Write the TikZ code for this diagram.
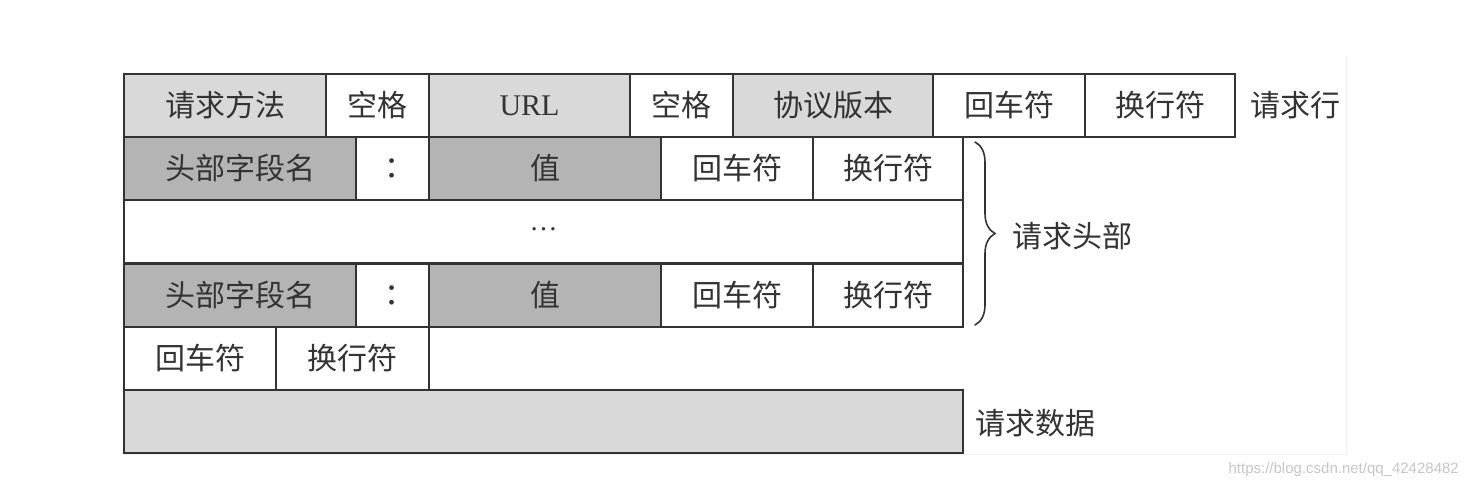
\documentclass[tikz,border=0pt]{standalone}
\usepackage{fontspec}
\newfontfamily\cjk{Noto Sans CJK SC}
\newfontfamily\wmfont{Liberation Sans}
\setmainfont{Liberation Serif}
\usetikzlibrary{decorations.pathreplacing}
\definecolor{lightcell}{HTML}{D9D9D9}
\definecolor{darkcell}{HTML}{B4B4B4}
\definecolor{inkc}{HTML}{333333}
\definecolor{framec}{HTML}{F2F2F2}
\tikzset{
  cell/.style={draw=inkc, line width=1.6pt, anchor=north west, inner sep=0pt, outer sep=0pt,
    minimum height=63pt, text=inkc, font=\cjk\fontsize{30}{32}\selectfont},
  lightbox/.style={cell, fill=lightcell},
  darkbox/.style={cell, fill=darkcell},
  whitebox/.style={cell, fill=white},
  sidelabel/.style={anchor=west, inner sep=0pt, text=inkc, font=\cjk\fontsize{30}{32}\selectfont},
}
\begin{document}
\begin{tikzpicture}[x=1pt,y=-1pt]
\useasboundingbox[fill=white] (0,0) rectangle (1468,488);
% faint background frame of the screenshot
\draw[framec, line width=1pt] (1346,55) -- (1346,454) -- (124,454);
% row 1: request line
\node[lightbox, minimum width=202pt] (m)   at (124,74) {请求方法};
\node[whitebox, minimum width=103pt] (s1)  at (326,74) {空格};
\node[lightbox, minimum width=201pt, font=\fontsize{30}{32}\selectfont] (url) at (429,74) {URL};
\node[whitebox, minimum width=103pt] (s2)  at (630,74) {空格};
\node[lightbox, minimum width=200pt] (ver) at (733,74) {协议版本};
\node[whitebox, minimum width=152pt] (cr1) at (933,74) {回车符};
\node[whitebox, minimum width=150pt] (lf1) at (1085,74) {换行符};
\node[sidelabel] (rl) at (1250,105) {请求行};
% row 2: header line
\node[darkbox, minimum width=232pt] (h1n) at (124,137) {头部字段名};
\node[whitebox, minimum width=73pt, font=\fontsize{40}{40}\selectfont] (h1c) at (356,137) {:};
\node[darkbox, minimum width=232pt] (h1v) at (429,137) {值};
\node[whitebox, minimum width=152pt] (h1r) at (661,137) {回车符};
\node[whitebox, minimum width=150pt] (h1l) at (813,137) {换行符};
% row 3: ellipsis
\node[whitebox, minimum width=839pt, font=\fontsize{28}{30}\selectfont] (dots) at (124,200) {\raisebox{4pt}{\ldots}};
% row 4: header line
\node[darkbox, minimum width=232pt] (h2n) at (124,264) {头部字段名};
\node[whitebox, minimum width=73pt, font=\fontsize{40}{40}\selectfont] (h2c) at (356,264) {:};
\node[darkbox, minimum width=232pt] (h2v) at (429,264) {值};
\node[whitebox, minimum width=152pt] (h2r) at (661,264) {回车符};
\node[whitebox, minimum width=150pt] (h2l) at (813,264) {换行符};
% row 5: empty line
\node[whitebox, minimum width=152pt] (er) at (124,327) {回车符};
\node[whitebox, minimum width=153pt] (el) at (276,327) {换行符};
% row 6: body
\node[lightbox, minimum width=839pt] (body) at (124,390) {};
% outer thick edges
\draw[inkc, line width=2.6pt] (m.south west) -- (m.north west) -- (lf1.north east);
\draw[inkc, line width=2.6pt] (h1n.north west) -- (body.south west) -- (body.south east);
% brace
\draw[inkc, line width=1.6pt, line cap=round,
  decorate, decoration={brace, amplitude=20pt, raise=0pt}]
  ([xshift=12pt,yshift=-5pt]h1l.north east) -- ([xshift=12pt,yshift=2pt]h2l.south east)
  coordinate[pos=0.5] (tip);
\node[sidelabel] (hd) at (1012,236) {请求头部};
\node[sidelabel] (bd) at (975,423) {请求数据};
% watermark
\node[anchor=east, inner sep=0pt, text=black!22, font=\wmfont\fontsize{15}{16}\selectfont] (wm) at (1459,470) {https://blog.csdn.net/qq\_42428482};
\end{tikzpicture}
\end{document}
